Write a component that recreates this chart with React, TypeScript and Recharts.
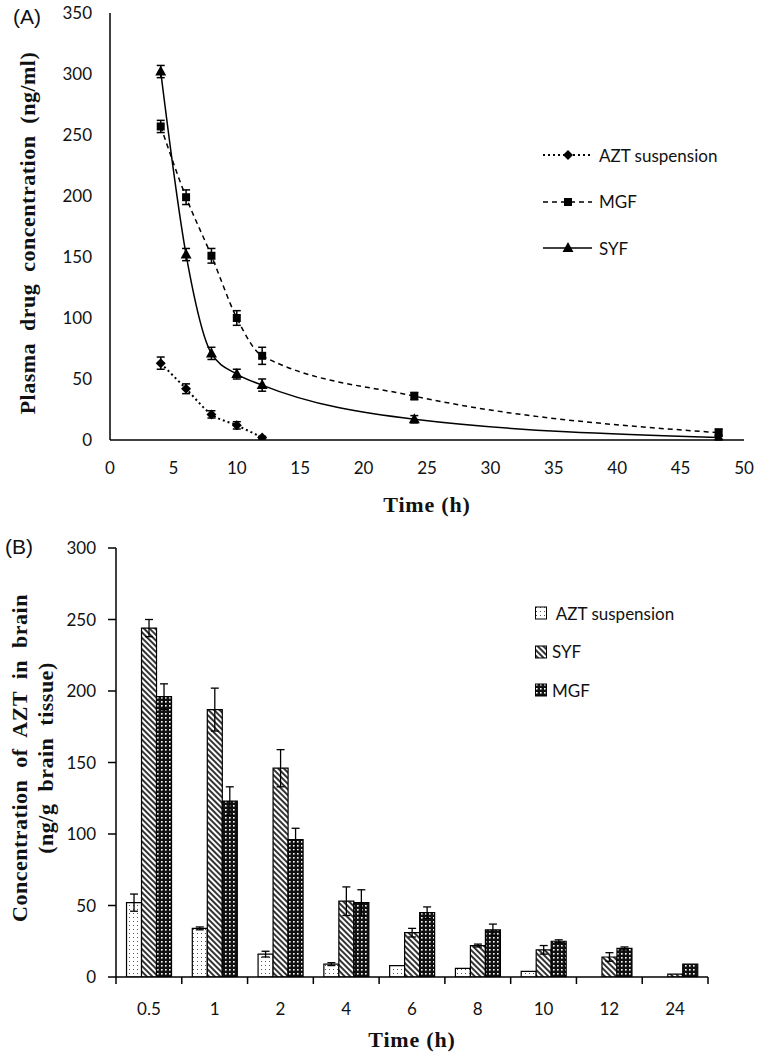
import {
  LineChart, Line, BarChart, Bar, XAxis, YAxis, ErrorBar, Legend,
} from 'recharts';

// Panel A: plasma concentration (ng/ml) vs time (h)
const plasmaTimes = [4, 6, 8, 10, 12, 24, 48];
const aztPlasma = [63, 42, 21, 12, 2];
const aztPlasmaErr = [5, 4, 3, 3, 1];
const mgfPlasma = [257, 199, 151, 100, 69, 36, 6];
const mgfPlasmaErr = [5, 6, 6, 6, 7, 3, 3];
const syfPlasma = [302, 152, 71, 54, 45, 17, 2];
const syfPlasmaErr = [5, 5, 5, 4, 5, 3, 2];
const plasmaYTicks = [0, 50, 100, 150, 200, 250, 300, 350];
const plasmaXTicks = [0, 5, 10, 15, 20, 25, 30, 35, 40, 45, 50];

// Panel B: brain concentration (ng/g brain tissue) per time point
const brainTimes = ['0.5', '1', '2', '4', '6', '8', '10', '12', '24'];
const aztBrain = [52, 34, 16, 9, 8, 6, 4, 0, 0];
const aztBrainErr = [6, 1, 2, 1, 0, 0, 0, 0, 0];
const syfBrain = [244, 187, 146, 53, 31, 22, 19, 14, 2];
const syfBrainErr = [6, 15, 13, 10, 3, 1, 3, 3, 0];
const mgfBrain = [196, 123, 96, 52, 45, 33, 25, 20, 9];
const mgfBrainErr = [9, 10, 8, 9, 4, 4, 1, 1, 0];
const brainYTicks = [0, 50, 100, 150, 200, 250, 300];

const toRows = (vals: number[], errs: number[]) =>
  vals.map((v, i) => ({ t: plasmaTimes[i], v, e: errs[i] }));

const aztRows = toRows(aztPlasma, aztPlasmaErr);
const mgfRows = toRows(mgfPlasma, mgfPlasmaErr);
const syfRows = toRows(syfPlasma, syfPlasmaErr);

const brainRows = brainTimes.map((time, i) => ({
  time,
  azt: aztBrain[i],
  aztErr: aztBrainErr[i],
  syf: syfBrain[i],
  syfErr: syfBrainErr[i],
  mgf: mgfBrain[i],
  mgfErr: mgfBrainErr[i],
}));

const tickFont = { fontFamily: 'Lato, sans-serif', fontSize: 17, fill: '#111' };
const titleFont = "'Liberation Serif', 'Times New Roman', serif";
const BAR_TICK_MARGIN = 26;

const Diamond = ({ cx, cy }: any) => (
  <path d={`M${cx},${cy - 5}L${cx + 5},${cy}L${cx},${cy + 5}L${cx - 5},${cy}Z`} fill="#000" />
);
const Square = ({ cx, cy }: any) => (
  <rect x={cx - 4} y={cy - 4} width={8} height={8} fill="#000" />
);
const Triangle = ({ cx, cy }: any) => (
  <path d={`M${cx},${cy - 6}L${cx + 5.5},${cy + 4}L${cx - 5.5},${cy + 4}Z`} fill="#000" />
);

// category tick: label in the middle, tick marks on the category boundaries
const BoundaryTick = ({ x, y, payload }: any) => {
  const half = payload.offset || 0;
  const axisY = y - BAR_TICK_MARGIN;
  const last = payload.index === brainTimes.length - 1;
  return (
    <g>
      <line x1={x - half} y1={axisY} x2={x - half} y2={axisY + 7} stroke="#000" strokeWidth={1.5} />
      {last && <line x1={x + half} y1={axisY} x2={x + half} y2={axisY + 7} stroke="#000" strokeWidth={1.5} />}
      <text x={x} y={y} dy="0.71em" textAnchor="middle" style={tickFont}>{payload.value}</text>
    </g>
  );
};

const lineLegend = [
  { name: 'AZT suspension', dash: '2 3', width: 2, Marker: Diamond },
  { name: 'MGF', dash: '5 4', width: 1.5, Marker: Square },
  { name: 'SYF', dash: undefined, width: 1.5, Marker: Triangle },
];

const barLegend = [
  { name: ' AZT suspension', fill: 'url(#dots)' },
  { name: 'SYF', fill: 'url(#diag)' },
  { name: 'MGF', fill: 'url(#checks)' },
];

const LineLegend = () => (
  <div style={{ fontFamily: 'Lato, sans-serif', fontSize: 17, color: '#111' }}>
    {lineLegend.map((it) => (
      <div key={it.name} style={{ display: 'flex', alignItems: 'center', height: 46.5 }}>
        <svg width={56} height={14}>
          <line x1={0} y1={7} x2={49} y2={7} stroke="#000" strokeWidth={it.width} strokeDasharray={it.dash} />
          <it.Marker cx={25} cy={7} />
        </svg>
        <span>{it.name}</span>
      </div>
    ))}
  </div>
);

const BarLegend = () => (
  <div style={{ fontFamily: 'Lato, sans-serif', fontSize: 17, color: '#111' }}>
    {barLegend.map((it) => (
      <div key={it.name} style={{ display: 'flex', alignItems: 'center', height: 38.5, whiteSpace: 'pre' }}>
        <svg width={17} height={14}>
          <rect x={0.5} y={1} width={11} height={12} fill={it.fill} stroke="#000" />
        </svg>
        <span>{it.name}</span>
      </div>
    ))}
  </div>
);

const VerticalTitle = ({ lines, cx, cy, gap }: { lines: string[]; cx: number; cy: number; gap: number }) => (
  <g>
    {lines.map((l, i) => (
      <text
        key={l}
        x={cx + i * gap}
        y={cy}
        transform={`rotate(-90, ${cx + i * gap}, ${cy})`}
        textAnchor="middle"
        dominantBaseline="central"
        style={{ fontFamily: titleFont, fontWeight: 'bold', fontSize: 22, fill: '#111', letterSpacing: 0.5, wordSpacing: 6 }}
      >
        {l}
      </text>
    ))}
  </g>
);

export default function App() {
  return (
    <div style={{ position: 'absolute', left: 0, top: 0, width: 760, height: 1059, background: '#fff' }}>
      <svg width={0} height={0} style={{ position: 'absolute' }}>
        <defs>
          <pattern id="dots" width={4} height={4} patternUnits="userSpaceOnUse">
            <rect width={4} height={4} fill="#fff" />
            <rect x={1} y={1} width={1} height={1} fill="#555" />
          </pattern>
          <pattern id="diag" width={4} height={4} patternUnits="userSpaceOnUse" patternTransform="rotate(-45)">
            <rect width={4} height={4} fill="#fff" />
            <line x1={1} y1={0} x2={1} y2={4} stroke="#000" strokeWidth={1.6} />
          </pattern>
          <pattern id="checks" width={4} height={4} patternUnits="userSpaceOnUse">
            <rect width={4} height={4} fill="#111" />
            <rect x={1} y={1} width={1.6} height={1.6} fill="#fff" />
          </pattern>
        </defs>
      </svg>

      <div style={{ position: 'absolute', left: 13, top: 5, fontFamily: 'Liberation Sans, Arial, sans-serif', fontSize: 21, color: '#111' }}>(A)</div>
      <div style={{ position: 'absolute', left: 5, top: 535, fontFamily: 'Liberation Sans, Arial, sans-serif', fontSize: 21, color: '#111' }}>(B)</div>

      <div style={{ position: 'absolute', left: 0, top: 0 }}>
        <LineChart width={760} height={520} margin={{ top: 13, right: 16, bottom: 0, left: 0 }}>
          <XAxis
            type="number"
            dataKey="t"
            domain={[0, 50]}
            ticks={plasmaXTicks}
            height={80}
            tickLine={false}
            tickSize={0}
            tickMargin={22}
            tick={tickFont}
            axisLine={{ stroke: '#000', strokeWidth: 1.5 }}
            allowDataOverflow
            label={{ value: 'Time (h)', position: 'insideBottom', offset: 8, style: { fontFamily: titleFont, fontWeight: 'bold', fontSize: 22, fill: '#111', letterSpacing: 0.8 } }}
          />
          <YAxis
            type="number"
            domain={[0, 350]}
            ticks={plasmaYTicks}
            width={110}
            tickLine={false}
            tickSize={0}
            tickMargin={18}
            tick={tickFont}
            axisLine={{ stroke: '#000', strokeWidth: 1.5 }}
            allowDataOverflow
            label={() => (
              <VerticalTitle lines={['Plasma drug concentration (ng/ml)']} cx={27} cy={233} gap={0} />
            )}
          />
          <Legend
            layout="horizontal"
            verticalAlign="middle"
            wrapperStyle={{ position: 'absolute', top: 132, left: 543, width: 220 }}
            content={() => <LineLegend />}
          />
          <Line data={aztRows} dataKey="v" name="AZT suspension" type="monotone" stroke="#000" strokeWidth={2} strokeDasharray="2 3" dot={(p: any) => <Diamond key={p.index} cx={p.cx} cy={p.cy} />} activeDot={false} isAnimationActive={false}>
            <ErrorBar dataKey="e" direction="y" width={4} stroke="#000" strokeWidth={1.5} />
          </Line>
          <Line data={mgfRows} dataKey="v" name="MGF" type="monotone" stroke="#000" strokeWidth={1.5} strokeDasharray="5 4" dot={(p: any) => <Square key={p.index} cx={p.cx} cy={p.cy} />} activeDot={false} isAnimationActive={false}>
            <ErrorBar dataKey="e" direction="y" width={4} stroke="#000" strokeWidth={1.5} />
          </Line>
          <Line data={syfRows} dataKey="v" name="SYF" type="monotone" stroke="#000" strokeWidth={1.5} dot={(p: any) => <Triangle key={p.index} cx={p.cx} cy={p.cy} />} activeDot={false} isAnimationActive={false}>
            <ErrorBar dataKey="e" direction="y" width={4} stroke="#000" strokeWidth={1.5} />
          </Line>
        </LineChart>
      </div>

      <div style={{ position: 'absolute', left: 0, top: 520 }}>
        <BarChart
          width={760}
          height={539}
          data={brainRows}
          margin={{ top: 28, right: 52, bottom: 0, left: 0 }}
          barGap={0}
          barCategoryGap="16%"
        >
          <XAxis
            dataKey="time"
            height={82}
            tickLine={false}
            tickSize={0}
            tickMargin={BAR_TICK_MARGIN}
            tick={<BoundaryTick />}
            interval={0}
            axisLine={{ stroke: '#000', strokeWidth: 1.5 }}
            label={{ value: 'Time (h)', position: 'insideBottom', offset: 12, style: { fontFamily: titleFont, fontWeight: 'bold', fontSize: 22, fill: '#111', letterSpacing: 0.8 } }}
          />
          <YAxis
            type="number"
            domain={[0, 300]}
            ticks={brainYTicks}
            width={116}
            tickSize={8}
            tickMargin={12}
            tickLine={{ stroke: '#000', strokeWidth: 1.5 }}
            tick={tickFont}
            axisLine={{ stroke: '#000', strokeWidth: 1.5 }}
            allowDataOverflow
            label={() => (
              <VerticalTitle
                lines={['Concentration of AZT in brain', '(ng/g brain tissue)']}
                cx={19}
                cy={238}
                gap={26}
              />
            )}
          />
          <Legend
            layout="horizontal"
            verticalAlign="middle"
            wrapperStyle={{ position: 'absolute', top: 74, left: 535, width: 220 }}
            content={() => <BarLegend />}
          />
          <Bar dataKey="azt" name="AZT suspension" fill="url(#dots)" stroke="#000" strokeWidth={1.2} isAnimationActive={false}>
            <ErrorBar dataKey="aztErr" width={4} stroke="#000" strokeWidth={1.3} />
          </Bar>
          <Bar dataKey="syf" name="SYF" fill="url(#diag)" stroke="#000" strokeWidth={1.2} isAnimationActive={false}>
            <ErrorBar dataKey="syfErr" width={4} stroke="#000" strokeWidth={1.3} />
          </Bar>
          <Bar dataKey="mgf" name="MGF" fill="url(#checks)" stroke="#000" strokeWidth={1.2} isAnimationActive={false}>
            <ErrorBar dataKey="mgfErr" width={4} stroke="#000" strokeWidth={1.3} />
          </Bar>
        </BarChart>
      </div>
    </div>
  );
}
